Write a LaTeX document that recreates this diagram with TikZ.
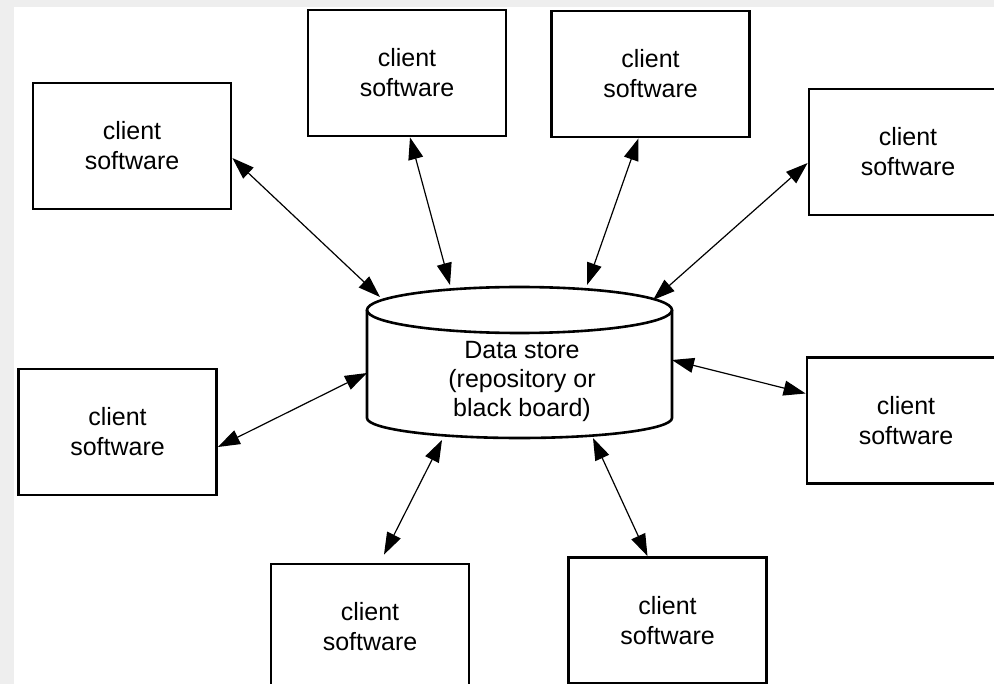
\documentclass[tikz,border=0pt]{standalone}
\usepackage{fontspec}
\setmainfont{Liberation Sans}
\usetikzlibrary{arrows.meta}
\definecolor{stripgray}{HTML}{EEEEEE}
\begin{document}
\begin{tikzpicture}[x=1pt, y=-1pt,
    client/.style={draw, line width=2.8pt, minimum width=198pt, minimum height=126pt,
      align=center, inner sep=0pt, font=\fontsize{25}{30}\selectfont},
    store/.style={minimum width=305pt, minimum height=151pt, inner sep=0pt},
    storeline/.style={line width=2.6pt},
    storelabel/.style={align=center, inner sep=0pt, font=\fontsize{25}{29}\selectfont},
    link/.style={<->, >={Triangle[length=22pt, width=15pt]}, line width=1.2pt}]
    % page frame with the grey strip at top and left
    \useasboundingbox (0,0) rectangle (994,684);
    \clip (0,0) rectangle (994,684);
    \fill[white] (0,0) rectangle (994,684);
    \fill[stripgray] (0,0) rectangle (994,7);
    \fill[stripgray] (0,0) rectangle (14,684);
    % central data store (cylinder drawn round the node)
    \node[store] (store) at (519.5,362.5) {};
    \draw[storeline] ([yshift=52.5pt]store.center) ellipse [x radius=152.5pt, y radius=23pt];
    \draw[storeline] ([shift={(-152.5pt,52.5pt)}]store.center)
      -- ([shift={(-152.5pt,-55.5pt)}]store.center)
      arc [start angle=180, end angle=360, x radius=152.5pt, y radius=20pt]
      -- ([shift={(152.5pt,52.5pt)}]store.center);
    \node[storelabel] (storetext) at (522,381) {Data store\\(repository or\\black board)};
    % client boxes, clockwise from top left
    \node[client] (tl) at (132,146)   {client\\software};
    \node[client] (tm) at (407,73)    {client\\software};
    \node[client] (tr) at (650.5,74)  {client\\software};
    \node[client] (rt) at (908,152)   {client\\software};
    \node[client] (rm) at (906,420.5) {client\\software};
    \node[client] (br) at (667.5,620.5) {client\\software};
    \node[client] (bl) at (370,627)   {client\\software};
    \node[client] (lm) at (117.5,432) {client\\software};
    % two-way links to the store
    \draw[link] ([yshift=-12pt]tl.east) -- ([shift={(-139.5pt,65.5pt)}]store.center);
    \draw[link] ([xshift=3pt]tm.south) -- ([shift={(-69.5pt,77.5pt)}]store.center);
    \draw[link] ([xshift=-12pt]tr.south) -- ([shift={(67.5pt,77.5pt)}]store.center);
    \draw[link] ([yshift=-11pt]rt.west) -- ([shift={(133.5pt,62.5pt)}]store.center);
    \draw[link] ([yshift=27pt]rm.west) -- ([shift={(152.5pt,2.5pt)}]store.center);
    \draw[link] ([xshift=-20pt]br.north) -- ([shift={(73.5pt,-75.5pt)}]store.center);
    \draw[link] ([xshift=14pt, yshift=8pt]bl.north) -- ([shift={(-77.5pt,-77.5pt)}]store.center);
    \draw[link] ([yshift=-15pt]lm.east) -- ([shift={(-152.5pt,-10.5pt)}]store.center);
\end{tikzpicture}
\end{document}
